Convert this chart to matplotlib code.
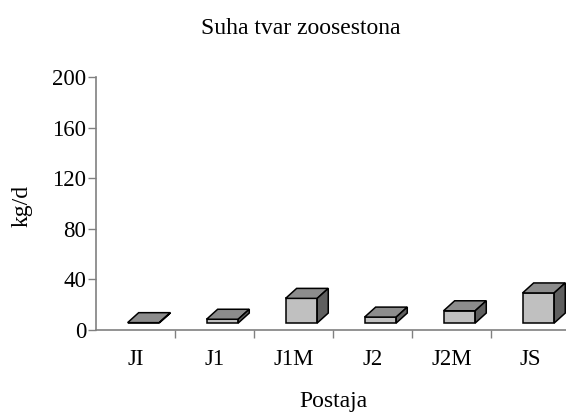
import matplotlib
matplotlib.use("Agg")
import matplotlib.pyplot as plt
from matplotlib.patches import Polygon

# data (kg/d)
stations = ["JI", "J1", "J1M", "J2", "J2M", "JS"]
values = [0.3, 3.0, 19.5, 4.7, 9.7, 23.8]
y_ticks = [0, 40, 80, 120, 160, 200]

FRONT = "#c0c0c0"
TOP = "#8c8c8c"
SIDE = "#5f5f5f"
AXIS = "#808080"

plt.rcParams["font.family"] = ["Liberation Serif", "DejaVu Serif"]
plt.rcParams["font.size"] = 16.5

fig = plt.figure(figsize=(5.66, 4.16), dpi=100)
ax = fig.add_axes([96 / 566, 86 / 416, 474 / 566, 253 / 416])
ax.set_xlim(-0.5, 5.5)
ax.set_ylim(0, 200)

# pseudo-3D columns (Excel style)
base = 5.5      # floor offset of the front faces
x0, x1 = -0.1, 0.3
dx, dy = 0.14, 7.9
for i, v in enumerate(values):
    l, r = i + x0, i + x1
    b, t = base, base + v
    ax.add_patch(Polygon([(l, b), (r, b), (r, t), (l, t)], closed=True,
                         fc=FRONT, ec="black", lw=1.1, zorder=3))
    ax.add_patch(Polygon([(l, t), (r, t), (r + dx, t + dy), (l + dx, t + dy)],
                         closed=True, fc=TOP, ec="black", lw=1.1, zorder=3))
    ax.add_patch(Polygon([(r, b), (r + dx, b + dy), (r + dx, t + dy), (r, t)],
                         closed=True, fc=SIDE, ec="black", lw=1.1, zorder=3))

ax.set_yticks(y_ticks)
ax.set_xticks(range(len(stations)))
ax.set_xticklabels(stations)
ax.set_xticks([i + 0.5 for i in range(len(stations))], minor=True)
ax.tick_params(axis="x", which="major", length=0, pad=14)
ax.tick_params(axis="x", which="minor", length=6, color=AXIS, width=1)
ax.tick_params(axis="y", length=6, color=AXIS, width=1, pad=1)
for s in ("top", "right"):
    ax.spines[s].set_visible(False)
for s in ("left", "bottom"):
    ax.spines[s].set_color(AXIS)
    ax.spines[s].set_linewidth(1.2)
ax.set_facecolor("none")

fig.text(301 / 566, 1 - 28 / 416, "Suha tvar zoosestona", ha="center", va="center", fontsize=17)
fig.text(333 / 566, 1 - 402 / 416, "Postaja", ha="center", va="center", fontsize=17)
fig.text(22 / 566, 1 - 206 / 416, "kg/d", ha="center", va="center", rotation=90, fontsize=17)

fig.savefig("out.png", dpi=100)
